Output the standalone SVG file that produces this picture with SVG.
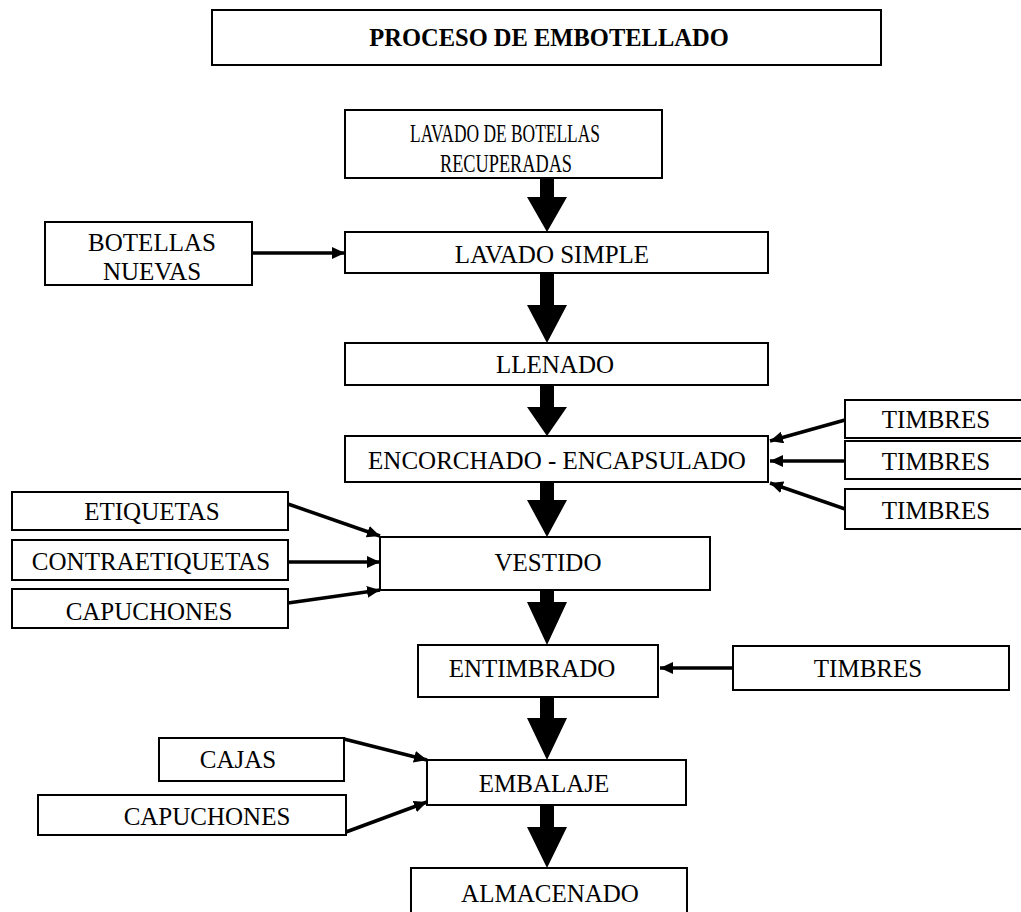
<svg xmlns="http://www.w3.org/2000/svg" width="1021" height="912" viewBox="0 0 1021 912">
  <style>
    .box { fill: #ffffff; stroke: #000000; stroke-width: 2; }
    .lbl { font-family: "Liberation Serif", "Times New Roman", serif; font-size: 25px; fill: #000000; text-anchor: middle; }
    .ttl { font-family: "Liberation Serif", "Times New Roman", serif; font-size: 24.5px; font-weight: bold; fill: #000000; text-anchor: middle; }
    .feed { fill: none; stroke: #000000; stroke-width: 3.5; marker-end: url(#tip); }
    .flow { fill: #000000; stroke: none; }
  </style>
  <defs>
    <marker id="tip" markerUnits="userSpaceOnUse" markerWidth="14" markerHeight="12" refX="13" refY="6" orient="auto">
      <path d="M0,0 L13,6 L0,12 Z" fill="#000000"/>
    </marker>
  </defs>

  <rect width="1021" height="912" fill="#ffffff"/>

  <g id="titulo">
    <rect class="box" x="212" y="10" width="669" height="55"/>
    <text class="ttl" x="549" y="46">PROCESO DE EMBOTELLADO</text>
  </g>

  <g id="lavado-recuperadas">
    <rect class="box" x="345" y="110" width="317" height="68"/>
    <text class="lbl" x="505" y="142" textLength="190" lengthAdjust="spacingAndGlyphs">LAVADO DE BOTELLAS</text>
    <text class="lbl" x="506" y="172" textLength="132" lengthAdjust="spacingAndGlyphs">RECUPERADAS</text>
  </g>

  <g id="botellas-nuevas">
    <rect class="box" x="45" y="222" width="207" height="63"/>
    <text class="lbl" x="152" y="251">BOTELLAS</text>
    <text class="lbl" x="152" y="280">NUEVAS</text>
  </g>

  <g id="lavado-simple">
    <rect class="box" x="345" y="232" width="423" height="41"/>
    <text class="lbl" x="552" y="263">LAVADO SIMPLE</text>
  </g>

  <g id="llenado">
    <rect class="box" x="345" y="343" width="423" height="42"/>
    <text class="lbl" x="555" y="373">LLENADO</text>
  </g>

  <g id="encorchado">
    <rect class="box" x="345" y="436" width="423" height="46"/>
    <text class="lbl" x="557" y="469">ENCORCHADO - ENCAPSULADO</text>
  </g>

  <g id="timbres-1">
    <rect class="box" x="845" y="400" width="180" height="38"/>
    <text class="lbl" x="936" y="428">TIMBRES</text>
  </g>
  <g id="timbres-2">
    <rect class="box" x="845" y="441" width="180" height="38"/>
    <text class="lbl" x="936" y="470">TIMBRES</text>
  </g>
  <g id="timbres-3">
    <rect class="box" x="845" y="489" width="180" height="40"/>
    <text class="lbl" x="936" y="519">TIMBRES</text>
  </g>

  <g id="etiquetas">
    <rect class="box" x="12" y="492" width="276" height="38"/>
    <text class="lbl" x="152" y="520">ETIQUETAS</text>
  </g>
  <g id="contraetiquetas">
    <rect class="box" x="12" y="540" width="276" height="40"/>
    <text class="lbl" x="151" y="570">CONTRAETIQUETAS</text>
  </g>
  <g id="capuchones-1">
    <rect class="box" x="12" y="589" width="276" height="39"/>
    <text class="lbl" x="149" y="620">CAPUCHONES</text>
  </g>

  <g id="vestido">
    <rect class="box" x="380" y="537" width="330" height="53"/>
    <text class="lbl" x="548" y="571">VESTIDO</text>
  </g>

  <g id="entimbrado">
    <rect class="box" x="418" y="645" width="240" height="52"/>
    <text class="lbl" x="532" y="677">ENTIMBRADO</text>
  </g>
  <g id="timbres-4">
    <rect class="box" x="733" y="646" width="276" height="44"/>
    <text class="lbl" x="868" y="677">TIMBRES</text>
  </g>

  <g id="cajas">
    <rect class="box" x="159" y="738" width="185" height="43"/>
    <text class="lbl" x="238" y="768">CAJAS</text>
  </g>
  <g id="capuchones-2">
    <rect class="box" x="38" y="795" width="308" height="40"/>
    <text class="lbl" x="207" y="825">CAPUCHONES</text>
  </g>

  <g id="embalaje">
    <rect class="box" x="427" y="760" width="259" height="45"/>
    <text class="lbl" x="544" y="792">EMBALAJE</text>
  </g>

  <g id="almacenado">
    <rect class="box" x="411" y="868" width="276" height="60"/>
    <text class="lbl" x="550" y="902">ALMACENADO</text>
  </g>

  <g id="conectores">
    <!-- main flow: block arrows down the centre column -->
    <polygon class="flow" points="540,178 554,178 554,197 567,197 547,232 527,197 540,197"/>
    <polygon class="flow" points="540,273 554,273 554,305 567,305 547,343 527,305 540,305"/>
    <polygon class="flow" points="540,385 554,385 554,407 567,407 547,436 527,407 540,407"/>
    <polygon class="flow" points="540,482 554,482 554,500 567,500 547,537 527,500 540,500"/>
    <polygon class="flow" points="540,590 554,590 554,602 567,602 547,645 527,602 540,602"/>
    <polygon class="flow" points="540,697 554,697 554,718 567,718 547,760 527,718 540,718"/>
    <polygon class="flow" points="540,805 554,805 554,827 567,827 547,868 527,827 540,827"/>

    <!-- side feeds -->
    <line class="feed" x1="252" y1="253" x2="345" y2="253"/>
    <line class="feed" x1="845" y1="420" x2="770" y2="441"/>
    <line class="feed" x1="845" y1="461" x2="770" y2="461"/>
    <line class="feed" x1="845" y1="509" x2="770" y2="483"/>
    <line class="feed" x1="288" y1="504" x2="380" y2="536"/>
    <line class="feed" x1="288" y1="562" x2="380" y2="562"/>
    <line class="feed" x1="288" y1="603" x2="380" y2="590"/>
    <line class="feed" x1="733" y1="668" x2="660" y2="668"/>
    <line class="feed" x1="344" y1="739" x2="427" y2="760"/>
    <line class="feed" x1="346" y1="832" x2="427" y2="802"/>
  </g>
</svg>
